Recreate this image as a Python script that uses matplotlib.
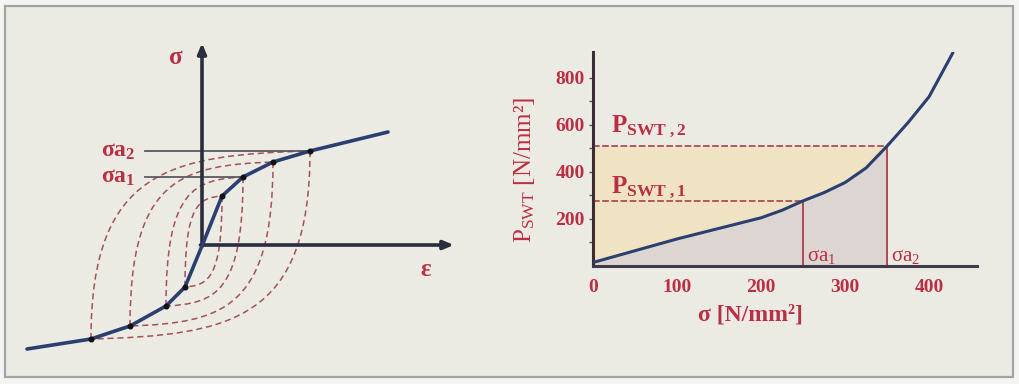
import numpy as np
import matplotlib
matplotlib.use("Agg")
import matplotlib.pyplot as plt
from matplotlib.path import Path
from matplotlib.patches import PathPatch, Rectangle

plt.rcParams['font.family'] = ['Liberation Serif', 'DejaVu Serif']
plt.rcParams['mathtext.fontset'] = 'custom'
plt.rcParams['mathtext.rm'] = 'Liberation Serif'
plt.rcParams['mathtext.it'] = 'Liberation Serif:italic'
plt.rcParams['mathtext.bf'] = 'Liberation Serif:bold'

# ----------------------------
# Left panel: schematic cyclic curve (units = pixels from the axes origin)
# ----------------------------
curve_eps = [-175, -111, -72, -36, -17, 2, 20, 41, 71, 108, 186]
curve_sig = [-104, -94, -81, -61, -42, 4, 49, 68, 83, 94, 113]

upper_eps = [20, 41, 71, 108]      # loop tips on the curve (upper)
upper_sig = [49, 68, 83, 94]
lower_eps = [-17, -36, -72, -111]  # loop tips on the curve (lower)
lower_sig = [-42, -61, -81, -94]

amp_labels = ['σa$_1$', 'σa$_2$']
amp_loops = [1, 3]                 # which loop each amplitude line belongs to

# ----------------------------
# Right panel: P_SWT over sigma
# ----------------------------
sigma = [0, 50, 100, 150, 200, 225, 250, 275, 300, 325, 350, 375, 400, 428]
p_swt = [15, 65, 115, 160, 205, 237, 277, 312, 355, 417, 510, 610, 720, 905]
sigma_a = [250, 350]
p_swt_a = [277, 510]

RED = '#bb2f45'
LINE_RED = '#a8404e'
BLUE = '#2b3f70'
AXIS = '#2a2e3a'

fig = plt.figure(figsize=(10.19, 3.84), dpi=100)
fig.patch.set_facecolor('#f4f4f2')
fig.patches.append(Rectangle((5 / 1019, 7 / 384), 1008 / 1019, 371 / 384,
                             transform=fig.transFigure, facecolor='#ebeae3',
                             edgecolor='#a3a3a3', lw=1.6, zorder=-10))

# ---------------- left panel ----------------
axl = fig.add_axes([0, 0, 480 / 1019, 1])
axl.set_xlim(-202, 278)
axl.set_ylim(-139, 245)
axl.axis('off')
axl.patch.set_alpha(0)

# hysteresis loops as cubic Bezier branches
for ux, uy, lx, ly in zip(upper_eps, upper_sig, lower_eps, lower_sig):
    dx, dy = ux - lx, uy - ly
    up = [(lx, ly), (lx, ly + 0.9 * dy), (ux - 0.64 * dx, uy - 0.02 * dy), (ux, uy)]
    down = [(ux, uy), (ux, uy - 0.9 * dy), (lx + 0.64 * dx, ly + 0.02 * dy), (lx, ly)]
    for verts in (up, down):
        path = Path(verts, [Path.MOVETO, Path.CURVE4, Path.CURVE4, Path.CURVE4])
        axl.add_patch(PathPatch(path, facecolor='none', edgecolor='#a4515a',
                                lw=1.1, linestyle=(0, (4, 2.5)), zorder=2))

# amplitude reference lines
for lab, i in zip(amp_labels, amp_loops):
    axl.plot([-57, upper_eps[i]], [upper_sig[i], upper_sig[i]], color='#5a5a60',
             lw=1.3, zorder=3)
    axl.text(-67, upper_sig[i], '$\\mathregular{' + lab.replace('$', '') + '}$',
             color=RED, fontsize=17, fontweight='bold', ha='right', va='center')

# axes arrows
axl.annotate('', xy=(0, 202), xytext=(0, -1.5),
             arrowprops=dict(arrowstyle='-|>,head_length=0.6,head_width=0.25',
                             color=AXIS, lw=2.6, shrinkA=0, shrinkB=0), zorder=4)
axl.annotate('', xy=(252, 0), xytext=(-1.5, 0),
             arrowprops=dict(arrowstyle='-|>,head_length=0.6,head_width=0.25',
                             color=AXIS, lw=2.6, shrinkA=0, shrinkB=0), zorder=4)
axl.text(-26, 188, 'σ', color=RED, fontsize=18, fontweight='bold', ha='center', va='center')
axl.text(224, -24, 'ε', color=RED, fontsize=18, fontweight='bold', ha='center', va='center')

# cyclic curve and tip markers
axl.plot(curve_eps, curve_sig, color=BLUE, lw=2.6, zorder=5, solid_capstyle='round')
axl.scatter(upper_eps + lower_eps, upper_sig + lower_sig, s=11, color='#111111', zorder=6)

# ---------------- right panel ----------------
ax = fig.add_axes([593 / 1019, (384 - 266) / 384, 384 / 1019, 214 / 384])
ax.set_xlim(0, 457)
ax.set_ylim(0, 910)
ax.patch.set_alpha(0)

sig = np.array(sigma)
pv = np.array(p_swt)
m = sig <= sigma_a[1]
ax.fill_between(sig[m], pv[m], p_swt_a[1], color='#f0e3c3', lw=0, zorder=1)
ax.fill_between(sig[m], 0, pv[m], color='#ddd5d2', lw=0, zorder=1)

for sa, pa in zip(sigma_a, p_swt_a):
    ax.plot([0, sa], [pa, pa], color=LINE_RED, lw=1.2, linestyle=(0, (4, 1.5)), zorder=2)
    ax.plot([sa, sa], [0, pa], color=LINE_RED, lw=1.3, zorder=2)

ax.plot(sigma, p_swt, color=BLUE, lw=2.2, zorder=4)

ax.text(22, 570, r'$\mathregular{P_{SWT\ ,2}}$', color=RED, fontsize=18, fontweight='bold')
ax.text(22, 310, r'$\mathregular{P_{SWT\ ,1}}$', color=RED, fontsize=18, fontweight='bold')
ax.text(sigma_a[0] + 5, 22, r'$\mathregular{σa_1}$', color=RED, fontsize=15)
ax.text(sigma_a[1] + 5, 22, r'$\mathregular{σa_2}$', color=RED, fontsize=15)

for s in ['top', 'right']:
    ax.spines[s].set_visible(False)
ax.spines['left'].set_color('#3a2c30')
ax.spines['left'].set_linewidth(2.2)
ax.spines['bottom'].set_color('#3f3a4a')
ax.spines['bottom'].set_linewidth(2.2)

ax.set_yticks([200, 400, 600, 800])
ax.set_yticks([100, 300, 500, 700], minor=True)
ax.set_xticks([0, 100, 200, 300, 400])
ax.tick_params(axis='y', which='both', length=3, width=1, color='#555555',
               labelsize=14, labelcolor=RED, pad=3)
ax.tick_params(axis='x', length=0, labelsize=14, labelcolor=RED, pad=9)
for t in ax.get_xticklabels() + ax.get_yticklabels():
    t.set_fontweight('bold')

ax.set_ylabel(r'$\mathregular{P_{SWT}}$ [N/mm²]', color=RED, fontsize=18)
ax.yaxis.set_label_coords(-0.146, 0.45)
ax.set_xlabel('σ [N/mm²]', color=RED, fontsize=17, fontweight='bold')
ax.xaxis.set_label_coords((750 - 593) / 384, -0.18)

fig.savefig('out.png', dpi=100, facecolor=fig.get_facecolor())
